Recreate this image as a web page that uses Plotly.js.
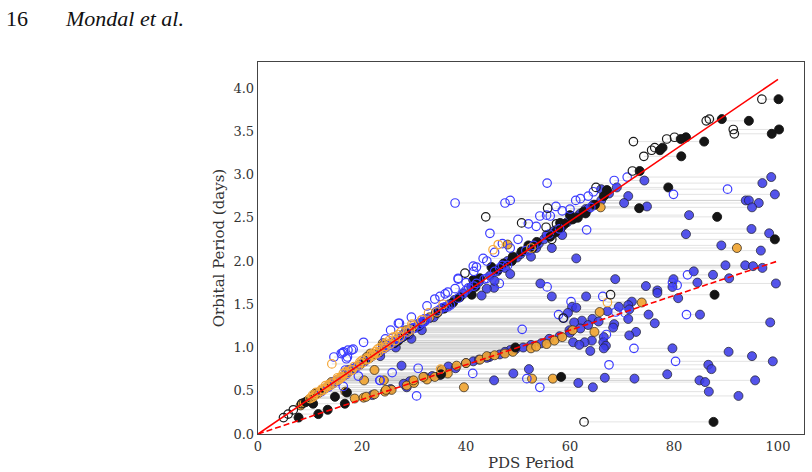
<!DOCTYPE html>
<html>
<head>
<meta charset="utf-8">
<script src="https://cdn.plot.ly/plotly-3.0.1.min.js"></script>
<style>
  html, body { margin: 0; padding: 0; background: #fff; }
  #chart { width: 812px; height: 472px; }
</style>
</head>
<body>
<div id="chart"></div>
<script>
// Orbital period (days) of each system, with its secondary (open) and
// adopted (filled) PDS period. null = no measurement of that kind.

// --- black sample ---
const blackP = [
  3.87, 3.64, 3.62, 3.52, 3.47, 3.43, 3.41, 3.38, 3.31, 3.28,
  3.21, 3.04, 2.85, 2.82, 2.61, 2.57, 2.53, 2.51, 2.44, 2.39,
  2.28, 2.25, 2.22, 2.11, 1.97, 1.93, 1.86, 1.80, 1.78, 1.61,
  1.61, 1.34, 1.24, 1.15, 1.05, 1.00, 0.69, 0.66, 0.14, 0.19,
  0.23, 0.28, 0.35, 0.37, 0.35, 0.47, 0.48, 0.43, 0.48, 0.85,
  0.95, 1.40, 1.52, 2.05, 2.18, 2.48, 2.43, 1.08, 1.12, 1.18,
  1.30, 1.45, 1.58, 1.70, 1.90, 2.00, 2.15, 2.33, 2.38, 2.50,
  2.55, 2.65, 2.75
];
const blackOpen = [
  96.9, 86.8, 86.2, 91.4, 91.6, 80.1, 78.6, 72.2, 76.3, 75.7,
  74.2, 72.0, 65.0, null, 55.7, null, null, 43.8, 50.7, 55.4,
  null, 56.5, null, null, null, null, 39.8, null, null, 67.8,
  null, 58.7, null, null, null, null, null, null, 62.7, 4.9,
  5.8, 6.8, 8.4, null, null, null, null, null, null, null,
  null, null, null, null, null, null, 57.4, null, null, null,
  null, null, null, null, null, null, null, null, null, null,
  null, null, null
];
const blackFill = [
  100.1, 89.2, 94.4, 100.2, 98.8, 82.3, 81.3, 85.8, 77.8, 77.3,
  81.4, 73.4, 78.9, 67.1, 73.3, 62.6, 60.0, 88.3, 58.1, null,
  56.2, 99.4, 53.6, 50.7, 47.2, 44.9, null, 42.7, 41.4, 87.8,
  41.1, null, 30.6, 28.5, 26.2, 49.5, 35.2, 58.3, 87.6, 7.8,
  11.6, 13.4, 16.7, 9.2, 10.6, 11.0, 11.7, 14.8, 17.1, 20.6,
  23.5, 34.5, 37.5, 49.0, 52.0, 60.5, 59.0, 27.0, 27.8, 29.0,
  32.0, 35.8, 38.8, 41.8, 46.2, 48.8, 52.8, 57.2, 58.2, 61.5,
  63.0, 64.8, 66.5
];

// --- blue sample ---
const blueP = [
  2.97, 2.93, 2.90, 2.83, 2.77, 2.75, 2.70, 2.70, 2.67, 2.67,
  2.63, 2.62, 2.60, 2.53, 2.52, 2.37, 2.36, 2.32, 2.31, 2.18,
  2.12, 2.03, 1.95, 1.95, 1.94, 1.92, 1.88, 1.84, 1.80, 1.79,
  1.79, 1.75, 1.74, 1.74, 1.71, 1.72, 1.70, 1.69, 1.68, 1.66,
  1.63, 1.59, 1.59, 1.57, 1.53, 1.49, 1.47, 1.47, 1.46, 1.44,
  1.42, 1.41, 1.40, 1.38, 1.38, 1.34, 1.33, 1.33, 1.31, 1.29,
  1.29, 1.28, 1.27, 1.23, 1.21, 1.20, 1.18, 1.15, 1.14, 1.12,
  1.08, 1.06, 1.06, 1.06, 1.03, 1.02, 0.99, 0.99, 0.97, 0.96,
  0.95, 0.90, 0.89, 0.84, 0.84, 0.80, 0.79, 0.78, 0.76, 0.75,
  0.75, 0.71, 0.70, 0.69, 0.68, 0.67, 0.65, 0.64, 0.62, 0.62,
  0.62, 0.61, 0.60, 0.59, 0.54, 0.54, 0.49, 0.44, 0.94, 0.97,
  1.45, 1.50, 1.55, 1.62, 1.70, 1.76, 1.83, 1.88, 1.92, 2.00,
  2.04, 2.08, 2.12, 2.15, 2.20, 2.25, 2.30, 2.35, 2.40, 2.45,
  2.50, 2.55, 2.60, 2.65, 2.70, 2.78, 2.85, 1.85, 2.05, 2.15,
  2.30, 1.77, 1.60, 1.10, 1.20, 1.00, 0.90, 1.35, 1.25, 1.15,
  0.45, 0.52, 0.58, 0.66, 0.72, 0.82, 0.86, 0.88, 0.92, 0.95,
  0.98, 1.00, 1.03, 1.05, 1.10, 1.13, 1.17, 1.22, 1.26, 1.30,
  2.52, 2.43, 2.20, 2.10, 1.93, 1.80, 1.64, 1.56, 1.28, 1.10,
  0.98, 0.93, 0.89, 0.87, 0.55, 0.62, 0.74, 1.20, 1.35, 1.48,
  1.62, 1.75, 1.88, 2.00, 2.15, 2.25, 2.40, 2.58, 2.72, 2.80
];
const blueOpen = [
  71.0, 68.5, 55.6, 90.3, 79.9, 63.5, 48.5, 61.1, 37.9, 47.5,
  57.3, 64.0, 60.0, 55.5, 54.2, 58.0, 63.2, 44.6, 56.0, 53.0,
  51.5, 43.3, 48.0, 47.0, 41.4, 46.5, 45.5, 82.6, 44.0, 43.5,
  38.5, 79.7, 46.4, 42.0, 41.5, 80.6, 55.6, 40.5, 37.9, 40.0,
  39.5, 35.0, 66.3, 38.5, 60.2, 37.0, 36.5, 36.0, 35.5, 35.0,
  34.5, 68.8, 70.6, 57.8, 82.4, 58.8, 32.5, 32.0, 32.2, 31.5,
  31.8, 27.0, 31.0, 30.0, 50.8, 29.3, 28.8, 67.0, 27.8, 27.4,
  26.4, 26.0, 20.3, 25.8, 25.2, 25.0, 72.3, 24.2, 18.0, 23.6,
  16.5, 22.0, 14.6, 80.3, 20.5, 67.5, 19.3, 19.0, 30.8, 18.3,
  18.5, 25.8, 41.3, 17.0, 16.6, 19.3, 16.0, 51.7, 23.5, 15.3,
  15.0, 15.2, 14.8, 14.5, 54.2, 13.5, 12.2, 30.5, 16.3, 17.3,
  null, null, null, null, null, null, null, null, null, null,
  null, null, null, null, null, null, null, null, null, null,
  null, null, null, null, null, null, null, null, null, null,
  null, null, null, null, null, null, null, null, null, null,
  null, null, null, null, null, null, null, null, null, null,
  24.0, 24.5, 25.3, 25.7, 27.0, 27.7, 28.7, 30.0, 30.9, 31.9,
  56.2, 52.0, 47.0, 45.5, 42.0, 38.5, 36.5, 34.0, 27.2, 24.5,
  18.3, 16.0, 17.2, 17.0, 16.4, 23.4, 16.8, 25.5, 29.5, 32.5,
  36.0, 40.0, 41.5, 44.0, 48.5, 50.0, 53.5, 58.5, 62.0, 64.5
];
const blueFill = [
  98.7, 74.3, 97.0, 66.0, 99.4, 71.2, 93.8, 94.4, 96.3, 70.4,
  74.8, 95.0, 63.0, 82.9, 61.5, 94.9, 57.5, 98.3, 82.3, 89.1,
  96.7, 61.2, 89.9, 93.7, 95.2, 97.0, 83.8, 87.5, 90.6, 68.7,
  79.9, 84.5, 99.6, 54.3, 74.6, null, 79.7, 45.4, 44.0, 76.8,
  76.8, 56.5, 63.1, 80.8, 71.9, 71.2, 69.4, 60.4, 61.2, 71.4,
  67.2, 34.2, 59.6, 75.1, 85.0, 33.0, 71.2, 64.3, 62.3, 60.8,
  98.5, 76.3, 68.5, 68.3, 29.5, 59.9, 72.7, 28.0, 71.4, 66.5,
  64.2, 62.8, 66.4, 60.6, 61.8, 66.9, 79.7, 66.5, 48.5, 63.9,
  90.5, 95.0, 44.5, 99.0, 41.4, 86.6, 27.6, 36.6, 38.0, 87.2,
  52.1, 35.5, 49.1, 78.7, 35.0, 33.5, 66.7, 72.4, 84.9, 95.6,
  45.4, 29.2, 86.0, 61.6, 64.4, 28.6, 86.7, 92.4, null, null,
  35.5, 36.8, 37.8, 39.5, 41.0, 42.5, 44.6, 46.0, 47.5, 48.0,
  49.8, 50.5, 52.0, 53.5, 54.0, 55.0, 55.5, 57.0, 58.5, 59.5,
  61.0, 62.0, 63.5, 64.5, 66.0, 67.5, 69.0, 48.5, 52.5, 56.5,
  58.5, 45.5, 43.0, 29.5, 31.5, 26.5, 23.5, 33.8, 31.0, 29.0,
  22.0, 25.5, 28.0, 32.0, 35.5, 40.0, 42.5, 44.0, 46.5, 47.5,
  49.5, 51.0, 52.5, 54.5, 56.0, 58.0, 60.0, 62.0, 63.5, 65.5,
  null, null, null, null, null, null, null, null, null, null,
  null, null, null, null, null, null, null, null, null, null,
  null, null, null, null, null, null, null, null, null, null
];

// --- orange sample ---
const orangeP = [
  0.41, 0.42, 0.43, 0.46, 0.49, 0.51, 0.51, 0.56, 0.59, 0.62,
  0.63, 0.66, 0.66, 0.70, 0.74, 0.75, 0.79, 0.82, 0.86, 0.90,
  0.91, 0.93, 0.95, 0.99, 1.01, 1.04, 1.08, 1.12, 1.18, 1.20,
  1.41, 0.62, 0.62, 0.74, 0.54, 0.64, 0.64, 1.52, 2.15, 2.19,
  2.13, 2.62, 0.81, 0.49, 0.33, 0.36, 0.38, 0.40, 0.44, 0.47,
  0.50, 0.53, 0.55, 0.58, 0.61, 0.64, 0.68, 0.72, 0.76, 0.80,
  0.84, 0.88, 0.92, 0.96, 1.00, 1.05, 1.10, 1.15, 1.22, 1.28,
  1.35, 1.05, 0.93, 0.45, 0.52, 0.57, 0.65, 0.72, 0.78, 0.85,
  0.92, 1.00, 1.05, 1.08, 1.12, 1.18, 1.25, 1.32, 1.50, 0.87,
  0.95, 1.15, 0.48, 0.56, 0.70, 0.83, 0.98, 1.13, 1.27, 1.40,
  0.60, 0.74, 0.89, 1.02, 1.20
];
const orangeOpen = [
  10.0, 10.4, 10.6, 11.3, 12.0, 12.5, 12.6, 13.8, 14.5, 15.2,
  15.5, 16.2, 16.0, 17.2, 18.1, 35.1, 19.3, 20.0, 21.0, 22.0,
  22.2, 22.8, 23.2, 24.2, 24.6, 25.4, 26.4, 27.3, 28.8, 29.3,
  34.4, null, null, 18.0, 13.2, 15.6, 15.8, 67.2, 52.5, 46.2,
  45.2, null, 14.2, null, null, null, null, null, null, null,
  null, null, null, null, null, null, null, null, null, null,
  null, null, null, null, null, null, null, null, null, null,
  null, null, null, 10.5, 12.3, 13.6, 15.3, 16.9, 18.5, 20.0,
  21.8, 23.5, 24.6, 25.2, 26.0, 27.5, 29.8, 31.5, 35.6, 21.2,
  22.5, 27.0, 11.2, 13.0, 16.4, 19.6, 23.0, 26.6, 29.6, 32.8,
  null, null, null, null, null
];
const orangeFill = [
  18.6, 20.3, 20.8, 22.4, 24.4, 25.7, 24.6, 28.6, 30.0, 29.9,
  32.5, 31.8, 34.0, 36.5, 35.3, 18.3, 38.2, 40.0, 42.7, 44.0,
  45.5, 47.5, 49.0, 52.5, 53.5, 55.5, 57.0, 58.5, 64.7, 60.5,
  65.7, 20.4, 24.2, 22.4, 39.6, 52.7, 56.7, 73.8, 92.1, 48.0,
  null, 65.9, 19.8, 16.8, 8.2, 8.8, 9.5, 9.8, 10.8, 11.5,
  12.2, 13.0, 13.5, 14.3, 15.0, 15.7, 16.6, 17.5, 18.6, 19.5,
  20.5, 21.5, 22.3, 23.5, 24.5, 25.6, 26.8, 28.0, 29.5, 31.0,
  33.0, 24.0, 21.6, null, null, null, null, null, null, null,
  null, null, null, null, null, null, null, null, null, null,
  null, null, null, null, null, null, null, null, null, null,
  14.1, 17.4, 20.9, 24.0, 28.5
];

// reference relations between PDS period and orbital period
const refX = [0, 100];
const refSolidY = [0, 4.1];
const refDashY = [0, 2.0];

const xTicks = [0, 20, 40, 60, 80, 100];
const yTicks = [0.0, 0.5, 1.0, 1.5, 2.0, 2.5, 3.0, 3.5, 4.0];

// ---------------------------------------------------------------
const groups = [
  { P: blackP, open: blackOpen, fill: blackFill,
    fillColor: '#151515', fillEdge: 'rgba(20,20,20,0.9)', openColor: '#1a1a1a' },
  { P: blueP, open: blueOpen, fill: blueFill,
    fillColor: 'rgba(60,60,232,0.88)', fillEdge: 'rgba(35,35,50,0.75)', openColor: '#3c3cff' },
  { P: orangeP, open: orangeOpen, fill: orangeFill,
    fillColor: 'rgba(240,165,50,0.92)', fillEdge: 'rgba(50,40,30,0.75)', openColor: '#f5a83a' }
];

// horizontal connectors between the two PDS periods of one system
const segX = [], segY = [];
groups.forEach(g => {
  g.P.forEach((p, i) => {
    const a = g.open[i], b = g.fill[i];
    if (a != null && b != null) {
      segX.push(a, b, null);
      segY.push(p, p, null);
    }
  });
});

function pick(g, key) {
  const xs = [], ys = [];
  g.P.forEach((p, i) => {
    const v = g[key][i];
    if (v != null) { xs.push(v); ys.push(p); }
  });
  return { xs, ys };
}

const traces = [{
  x: segX, y: segY, type: 'scatter', mode: 'lines',
  line: { color: 'rgba(175,175,175,0.35)', width: 1 },
  hoverinfo: 'skip'
}];

// filled markers: blue, orange, black
[1, 2, 0].forEach(k => {
  const g = groups[k];
  const d = pick(g, 'fill');
  traces.push({
    x: d.xs, y: d.ys, type: 'scatter', mode: 'markers',
    marker: { size: 9, color: g.fillColor, line: { color: g.fillEdge, width: 1 } }
  });
});
// open markers
[1, 2, 0].forEach(k => {
  const g = groups[k];
  const d = pick(g, 'open');
  traces.push({
    x: d.xs, y: d.ys, type: 'scatter', mode: 'markers',
    marker: { size: 8.5, color: 'rgba(0,0,0,0)', line: { color: g.openColor, width: 1.2 } }
  });
});

traces.push({
  x: refX, y: refSolidY, type: 'scatter', mode: 'lines',
  line: { color: '#ff0000', width: 1.6 }
});
traces.push({
  x: refX, y: refDashY, type: 'scatter', mode: 'lines',
  line: { color: '#ff0000', width: 1.6, dash: '6px,3px' }
});

const axisCommon = {
  showgrid: false, zeroline: false, showline: true, mirror: true,
  linecolor: '#444', linewidth: 1.3, ticks: '',
  tickfont: { family: 'DejaVu Serif', size: 13, color: '#333' }
};

const headFont = { family: '"Liberation Serif", "Times New Roman", serif', size: 22, color: '#111' };

const layout = {
  width: 812, height: 472,
  margin: { l: 258, r: 8, t: 62, b: 38, pad: 0 },
  paper_bgcolor: '#ffffff', plot_bgcolor: '#ffffff',
  showlegend: false,
  font: { family: 'DejaVu Serif', color: '#333' },
  xaxis: Object.assign({}, axisCommon, {
    range: [0, 105], tickvals: xTicks,
    title: { text: 'PDS Period', font: { family: 'DejaVu Serif', size: 15, color: '#333' }, standoff: 2 }
  }),
  yaxis: Object.assign({}, axisCommon, {
    range: [0, 4.3], tickvals: yTicks, tickformat: '.1f',
    title: { text: 'Orbital Period (days)', font: { family: 'DejaVu Serif', size: 15, color: '#333' }, standoff: 5 }
  }),
  annotations: [
    { text: '16', xref: 'paper', yref: 'paper', x: -0.4651, y: 1.118,
      xanchor: 'left', yanchor: 'middle', showarrow: false, font: headFont },
    { text: '<i>Mondal et al.</i>', xref: 'paper', yref: 'paper', x: -0.3572, y: 1.118,
      xanchor: 'left', yanchor: 'middle', showarrow: false, font: headFont }
  ]
};

Plotly.newPlot('chart', traces, layout, { displayModeBar: false, staticPlot: true });
</script>
</body>
</html>
